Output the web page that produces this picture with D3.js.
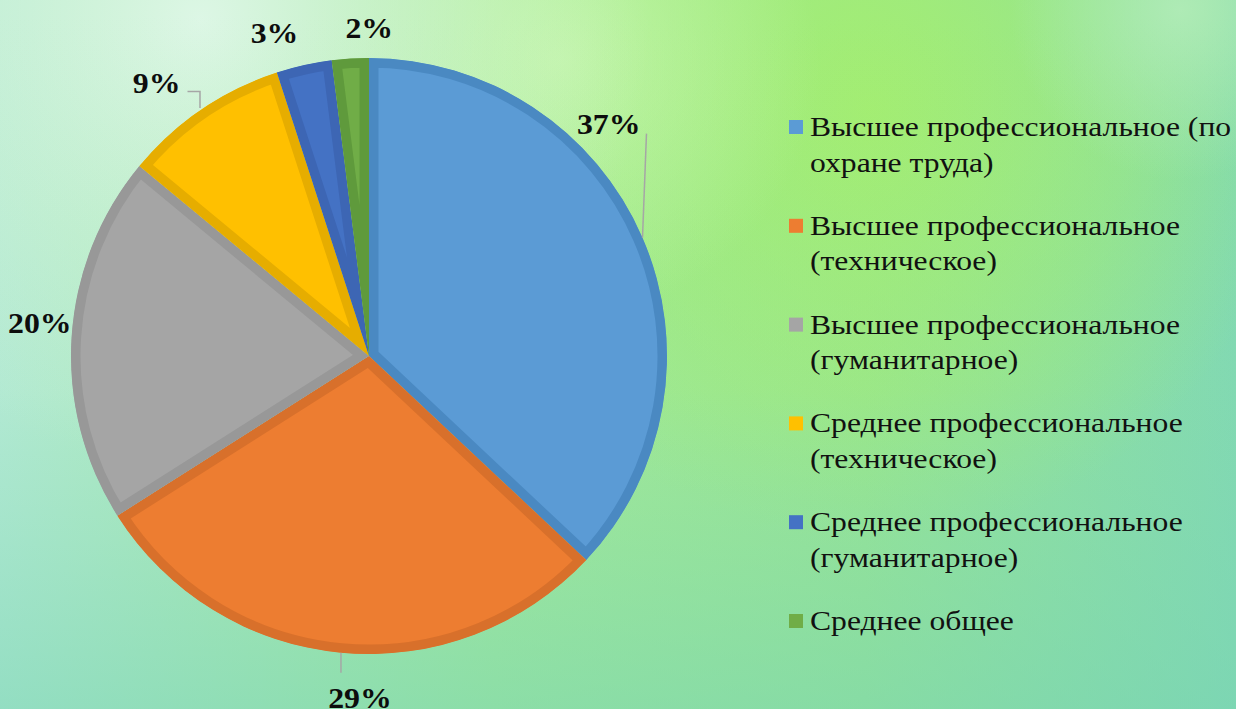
<!DOCTYPE html>
<html>
<head>
<meta charset="utf-8">
<script src="https://cdn.jsdelivr.net/npm/d3@7"></script>
<style>
  html, body { margin: 0; padding: 0; overflow: hidden; }
  svg { display: block; }
</style>
</head>
<body>
<svg id="chart" width="1236" height="709"></svg>
<script>
// ---- data ----
const categories = [
  "Высшее профессиональное (по охране труда)",
  "Высшее профессиональное (техническое)",
  "Высшее профессиональное (гуманитарное)",
  "Среднее профессиональное (техническое)",
  "Среднее профессиональное (гуманитарное)",
  "Среднее общее"
];
const legendLines = [
  ["Высшее профессиональное (по", "охране труда)"],
  ["Высшее профессиональное", "(техническое)"],
  ["Высшее профессиональное", "(гуманитарное)"],
  ["Среднее профессиональное", "(техническое)"],
  ["Среднее профессиональное", "(гуманитарное)"],
  ["Среднее общее"]
];
const values = [37, 29, 20, 9, 3, 2];
const fillColors   = ["#5b9bd5", "#ed7d31", "#a5a5a5", "#ffc000", "#4472c4", "#70ad47"];
const borderColors = ["#4a89c2", "#d8702b", "#989898", "#e6ad00", "#3d66b4", "#5f9a3c"];
// label placement nudges relative to the slice's outer mid-point: [dx, dy, anchor, leader]
const labelNudge = [
  [-2, -104, "end", "up"],
  [19, 55, "middle", "down"],
  [0, -4, "end", "none"],
  [-21, -17, "end", "elbow"],
  [-29.5, -22, "middle", "none"],
  [19, -21, "middle", "none"]
];

const W = 1236, H = 709;
const cx = 369, cy = 356, R = 298;
const FONT = "'Liberation Serif', 'Times New Roman', 'DejaVu Serif', serif";
const svg = d3.select("#chart");
const defs = svg.append("defs");

// ---- background ----
const lg = defs.append("linearGradient").attr("id", "bgH").attr("x1", 0).attr("x2", 1).attr("y1", 0).attr("y2", 0);
[["0%", "#b4ead4"], ["40%", "#a4ea98"], ["70%", "#98e592"], ["100%", "#82d9b2"]]
  .forEach(([o, c]) => lg.append("stop").attr("offset", o).attr("stop-color", c));
const lv = defs.append("linearGradient").attr("id", "bgV").attr("x1", 0).attr("x2", 0).attr("y1", 0).attr("y2", 1);
[["0%", "#7fd6b4", 0], ["55%", "#7fd6b4", 0.05], ["100%", "#78d4b4", 0.55]]
  .forEach(([o, c, a]) => lv.append("stop").attr("offset", o).attr("stop-color", c).attr("stop-opacity", a));
function radial(id, x, y, r, stops) {
  const rg = defs.append("radialGradient").attr("id", id).attr("gradientUnits", "userSpaceOnUse")
    .attr("cx", x).attr("cy", y).attr("r", r);
  stops.forEach(([o, c, a]) => rg.append("stop").attr("offset", o).attr("stop-color", c).attr("stop-opacity", a));
}
radial("bgR1", 870, 110, 430, [["0%", "#a4ee70", 0.95], ["60%", "#a4ee70", 0.45], ["100%", "#a4ee70", 0]]);
radial("bgR2", 200, 20, 450, [["0%", "#e2f8ea", 0.9], ["55%", "#d6f5d8", 0.45], ["100%", "#d6f5d8", 0]]);
radial("bgR3", 560, 60, 260, [["0%", "#c8f7ae", 0.8], ["100%", "#c8f7ae", 0]]);
radial("bgR4", 1180, 10, 170, [["0%", "#b2ecb8", 0.9], ["100%", "#b2ecb8", 0]]);

["bgH", "bgR1", "bgR3", "bgR2", "bgR4", "bgV"].forEach(id =>
  svg.append("rect").attr("width", W).attr("height", H).attr("fill", `url(#${id})`));

// ---- pie ----
const pie = d3.pie().value(d => d).sort(null);
const arcs = pie(values);
const arc = d3.arc().innerRadius(0).outerRadius(R);

arcs.forEach((a, i) => {
  defs.append("clipPath").attr("id", "clip" + i)
    .append("path").attr("d", arc(a)).attr("transform", `translate(${cx},${cy})`);
});
const slices = svg.append("g");
slices.selectAll("g.slice").data(arcs).join("g")
  .attr("class", "slice")
  .attr("clip-path", (d, i) => `url(#clip${i})`)
  .each(function(d, i) {
    d3.select(this).append("path")
      .attr("transform", `translate(${cx},${cy})`)
      .attr("d", arc(d))
      .attr("fill", fillColors[i])
      .attr("stroke", borderColors[i])
      .attr("stroke-width", 19)
      .attr("stroke-linejoin", "miter");
  });

// ---- data labels ----
const total = d3.sum(values);
const labels = svg.append("g");
arcs.forEach((a, i) => {
  const mid = (a.startAngle + a.endAngle) / 2;
  const ax = cx + R * Math.sin(mid), ay = cy - R * Math.cos(mid);
  const [dx, dy, anchor, leader] = labelNudge[i];
  const lx = ax + dx, ly = ay + dy;
  const pct = Math.round(values[i] / total * 100) + "%";
  let d = null;
  if (leader === "up") d = `M${ax},${ay}L${ax + 4},${ly}`;
  else if (leader === "down") d = `M${ax},${ay}L${ax},${ay + 20}`;
  else if (leader === "elbow") d = `M${ax - 1.5},${ay - 1.5}L${ax - 1.5},${ly - 1}L${lx + 7},${ly - 1}`;
  if (d) labels.append("path").attr("d", d)
      .attr("stroke", "#a6a6a6").attr("stroke-width", 1.5).attr("fill", "none");
  labels.append("text")
    .attr("transform", `translate(${lx},${ly}) scale(1.06,1)`)
    .attr("text-anchor", anchor)
    .attr("font-family", FONT)
    .attr("font-weight", "bold")
    .attr("font-size", 30)
    .attr("fill", "#0d0d0d")
    .text(pct);
});

// ---- legend ----
const legend = svg.append("g");
const legY0 = 136, legStep = 98.8, lineH = 35.7;
legendLines.forEach((lines, i) => {
  const y = legY0 + i * legStep;
  legend.append("rect").attr("x", 789).attr("y", y - 16).attr("width", 14).attr("height", 14)
    .attr("fill", fillColors[i]);
  const t = legend.append("text")
    .attr("transform", `translate(810,${y}) scale(1.13,1)`)
    .attr("font-family", FONT)
    .attr("font-size", 28)
    .attr("fill", "#111");
  lines.forEach((ln, j) => {
    t.append("tspan").attr("x", 0).attr("y", j * lineH).text(ln);
  });
});
</script>
</body>
</html>
